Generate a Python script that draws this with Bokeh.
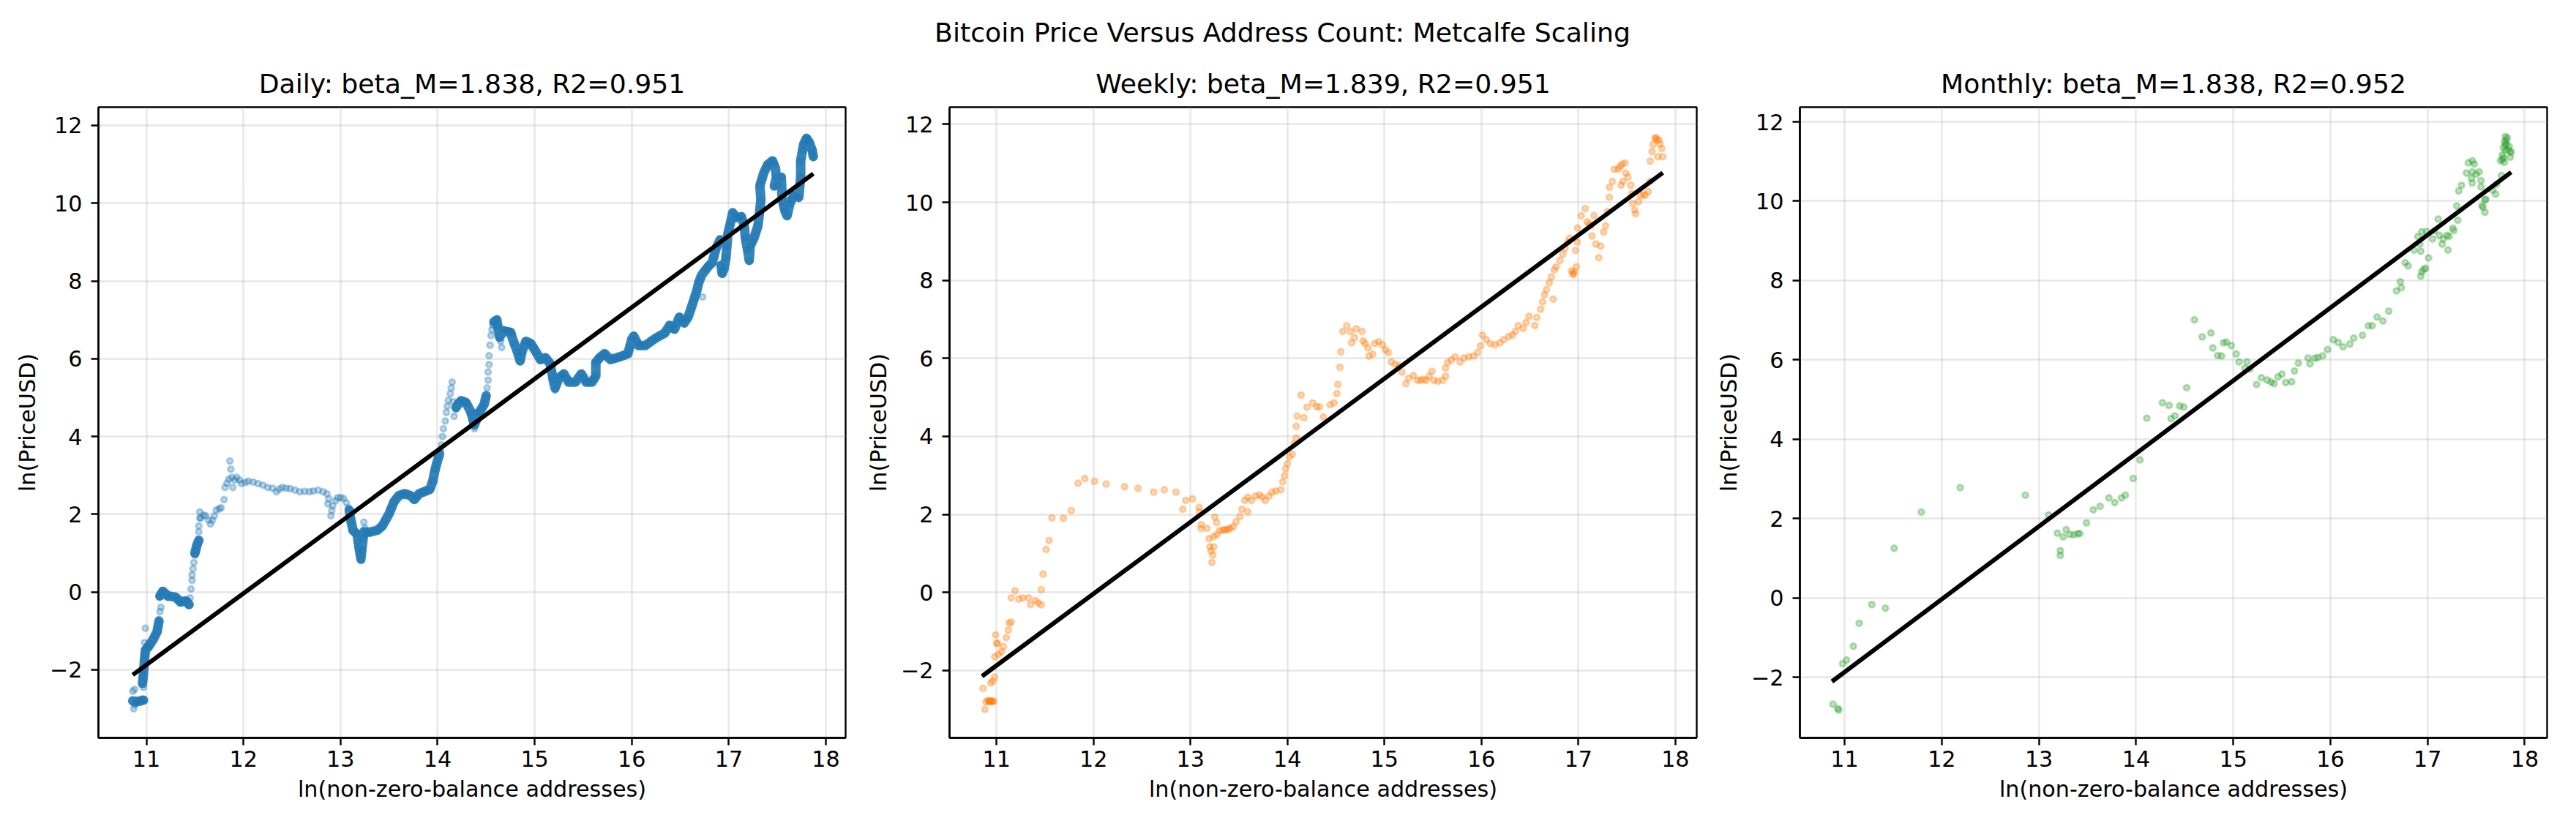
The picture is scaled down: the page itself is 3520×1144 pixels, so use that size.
import math
from bokeh.plotting import figure
from bokeh.layouts import column, row
from bokeh.models import Range1d, FixedTicker, CustomJSTickFormatter
from bokeh.core.properties import value
from bokeh.embed import file_html
from bokeh.resources import INLINE

# values: ln(address count) vs ln(price)
daily_x = [10.87, 10.88, 10.86, 10.88, 10.89, 10.90, 10.92, 10.94, 10.95, 10.97, 10.97, 10.96, 10.96, 10.97,
           10.98, 10.98, 10.99, 10.98, 10.99, 11.01, 11.03, 11.05, 11.07, 11.09, 11.11, 11.12, 11.13, 11.14,
           11.15, 11.13, 11.15, 11.17, 11.20, 11.22, 11.26, 11.30, 11.33, 11.35, 11.38, 11.41, 11.43, 11.45,
           11.46, 11.47, 11.47, 11.48, 11.49, 11.50, 11.51, 11.52, 11.54, 11.54, 11.54, 11.55, 11.55, 11.56,
           11.59, 11.61, 11.64, 11.66, 11.68, 11.70, 11.72, 11.75, 11.77, 11.80, 11.81, 11.83, 11.85, 11.86,
           11.87, 11.88, 11.89, 11.91, 11.93, 11.96, 11.98, 12.02, 12.05, 12.10, 12.15, 12.20, 12.25, 12.30,
           12.34, 12.37, 12.40, 12.44, 12.48, 12.53, 12.58, 12.63, 12.68, 12.72, 12.77, 12.82, 12.86, 12.87,
           12.88, 12.90, 12.91, 12.92, 12.95, 12.97, 13.00, 13.03, 13.06, 13.08, 13.10, 13.11, 13.12, 13.15,
           13.17, 13.18, 13.19, 13.20, 13.21, 13.22, 13.23, 13.24, 13.25, 13.26, 13.28, 13.31, 13.34, 13.38,
           13.41, 13.43, 13.46, 13.50, 13.52, 13.55, 13.57, 13.60, 13.63, 13.66, 13.69, 13.72, 13.76, 13.78,
           13.81, 13.84, 13.86, 13.89, 13.92, 13.95, 13.97, 13.99, 14.01, 14.03, 14.04, 14.05, 14.06, 14.08,
           14.09, 14.10, 14.11, 14.13, 14.14, 14.15, 14.16, 14.17, 14.19, 14.21, 14.24, 14.26, 14.29, 14.31,
           14.34, 14.36, 14.38, 14.38, 14.40, 14.43, 14.46, 14.48, 14.50, 14.51, 14.52, 14.52, 14.53, 14.53,
           14.54, 14.55, 14.56, 14.57, 14.59, 14.61, 14.62, 14.63, 14.65, 14.66, 14.67, 14.70, 14.72, 14.75,
           14.77, 14.79, 14.82, 14.84, 14.85, 14.87, 14.89, 14.91, 14.94, 14.96, 14.99, 15.01, 15.04, 15.06,
           15.09, 15.11, 15.14, 15.16, 15.18, 15.19, 15.21, 15.23, 15.25, 15.28, 15.30, 15.33, 15.35, 15.38,
           15.42, 15.45, 15.48, 15.51, 15.53, 15.56, 15.59, 15.61, 15.63, 15.62, 15.65, 15.67, 15.70, 15.72,
           15.75, 15.78, 15.82, 15.85, 15.88, 15.91, 15.94, 15.96, 15.98, 16.00, 16.02, 16.05, 16.07, 16.10,
           16.14, 16.17, 16.20, 16.23, 16.26, 16.30, 16.34, 16.37, 16.39, 16.42, 16.44, 16.47, 16.49, 16.52,
           16.54, 16.56, 16.58, 16.61, 16.63, 16.65, 16.67, 16.69, 16.73, 16.71, 16.74, 16.77, 16.79, 16.83,
           16.85, 16.87, 16.89, 16.91, 16.92, 16.93, 16.94, 16.95, 16.97, 16.98, 16.99, 17.01, 17.02, 17.04,
           17.06, 17.08, 17.11, 17.13, 17.15, 17.16, 17.17, 17.19, 17.21, 17.22, 17.24, 17.26, 17.28, 17.30,
           17.32, 17.33, 17.32, 17.34, 17.36, 17.38, 17.40, 17.43, 17.45, 17.47, 17.49, 17.46, 17.51, 17.54,
           17.55, 17.56, 17.58, 17.60, 17.63, 17.65, 17.67, 17.70, 17.72, 17.74, 17.74, 17.76, 17.77, 17.79,
           17.80, 17.82, 17.83, 17.85, 17.86, 17.87]
daily_y = [-3.00, -2.90, -2.55, -2.50, -2.85, -2.78, -2.82, -2.80, -2.75, -2.78, -2.45, -2.30, -2.15, -2.02,
           -1.75, -1.60, -1.45, -1.30, -0.93, -1.40, -1.43, -1.35, -1.22, -1.12, -1.02, -0.85, -0.70, -0.50,
           -0.39, -0.13, -0.02, 0.03, -0.05, -0.13, -0.10, -0.13, -0.20, -0.29, -0.22, -0.23, -0.34, -0.15,
           0.08, 0.30, 0.44, 0.60, 0.76, 0.95, 1.07, 1.20, 1.33, 1.55, 1.70, 1.90, 2.06, 1.91,
           1.98, 1.96, 1.85, 1.75, 1.85, 1.96, 2.11, 2.14, 2.17, 2.38, 2.69, 2.80, 2.90, 3.37,
           3.16, 2.95, 2.69, 2.88, 2.95, 2.88, 2.79, 2.82, 2.85, 2.83, 2.79, 2.75, 2.69, 2.67,
           2.58, 2.65, 2.69, 2.67, 2.66, 2.62, 2.58, 2.59, 2.58, 2.60, 2.62, 2.58, 2.53, 2.27,
           2.40, 1.96, 2.10, 2.22, 2.35, 2.43, 2.43, 2.41, 2.30, 2.17, 1.95, 1.80, 1.59, 1.55,
           1.49, 1.30, 1.12, 0.95, 0.81, 1.07, 1.40, 1.80, 1.65, 1.49, 1.52, 1.54, 1.57, 1.59,
           1.64, 1.70, 1.85, 2.01, 2.15, 2.32, 2.42, 2.48, 2.52, 2.53, 2.52, 2.48, 2.38, 2.45,
           2.53, 2.56, 2.58, 2.61, 2.64, 2.85, 3.16, 3.30, 3.47, 3.65, 3.79, 4.00, 4.20, 4.40,
           4.62, 4.78, 4.93, 5.10, 5.25, 5.40, 4.90, 4.52, 4.70, 4.88, 4.92, 4.93, 4.88, 4.83,
           4.60, 4.40, 4.20, 4.31, 4.62, 4.62, 4.75, 4.83, 5.00, 5.25, 5.45, 5.66, 5.85, 6.08,
           6.35, 6.60, 6.75, 6.86, 6.95, 7.02, 6.85, 6.60, 6.45, 6.29, 6.76, 6.73, 6.71, 6.68,
           6.66, 6.39, 6.19, 6.05, 5.92, 6.19, 6.35, 6.45, 6.42, 6.39, 6.30, 6.19, 6.08, 5.98,
           6.00, 6.03, 5.95, 5.87, 5.65, 5.46, 5.19, 5.35, 5.51, 5.58, 5.61, 5.50, 5.40, 5.42,
           5.40, 5.52, 5.61, 5.50, 5.40, 5.40, 5.40, 5.48, 5.56, 5.92, 5.98, 6.03, 6.08, 6.13,
           6.05, 5.98, 6.00, 6.03, 6.05, 6.08, 6.10, 6.13, 6.30, 6.50, 6.60, 6.45, 6.34, 6.34,
           6.34, 6.40, 6.45, 6.50, 6.55, 6.60, 6.66, 6.76, 6.86, 6.80, 6.76, 6.92, 7.07, 7.00,
           6.92, 7.00, 7.07, 7.25, 7.44, 7.60, 7.75, 7.96, 7.59, 8.10, 8.27, 8.33, 8.38, 8.48,
           8.65, 8.85, 8.95, 9.06, 8.38, 8.25, 8.17, 8.35, 8.59, 8.90, 9.21, 9.40, 9.53, 9.79,
           9.70, 9.63, 9.65, 9.68, 9.55, 9.42, 9.11, 8.80, 8.53, 8.90, 9.00, 9.11, 9.25, 9.42,
           9.84, 10.05, 10.47, 10.60, 10.78, 10.90, 10.99, 11.05, 11.09, 10.99, 10.67, 10.41, 10.47, 10.67,
           10.05, 9.90, 9.79, 9.68, 10.00, 10.10, 10.20, 10.18, 10.15, 10.67, 11.09, 11.35, 11.51, 11.62,
           11.67, 11.62, 11.56, 11.40, 11.30, 11.20]

# centre of the stretches where the daily points pile up into a solid band (nan = gap)
nan = float("nan")
band_x = [10.86, 10.90, 10.94, 10.97, nan,
          10.96, 10.97, 10.98, 10.99, 11.02, 11.07, 11.11, 11.13, nan,
          11.14, 11.17, 11.22, 11.30, 11.35, 11.41, 11.44, nan,
          11.50, 11.52, 11.54, nan,
          13.09, 13.11, 13.13, 13.17, 13.19, 13.21, 13.22, 13.24, 13.30, 13.38, 13.43, 13.50, 13.55, 13.60,
          13.66, 13.72, 13.76, 13.81, 13.86, 13.92, 13.95, 13.97, 13.99, 14.01, 14.02, nan,
          14.19, 14.24, 14.29, 14.34, 14.38, 14.43, 14.48, 14.50, nan,
          14.58, 14.61, 14.64, 14.67, 14.75, 14.79, 14.82, 14.85, 14.87, 14.91, 14.96, 15.01, 15.06, 15.11,
          15.16, 15.19, 15.21, 15.25, 15.30, 15.35, 15.42, 15.48, 15.53, 15.59, 15.63, 15.63, 15.67, 15.72,
          15.78, 15.85, 15.91, 15.96, 16.00, 16.02, 16.07, 16.14, 16.20, 16.26, 16.34, 16.39, 16.44, 16.49,
          16.54, 16.58, 16.63, 16.67, 16.69, 16.72, 16.79, 16.83, 16.87, 16.91, nan,
          16.92, 16.93, 16.95, 16.97, 16.99, 17.02, 17.04, 17.08, 17.13, 17.16, 17.17, 17.20, 17.21, 17.22,
          17.26, 17.30, 17.32, 17.33, 17.32, 17.36, 17.40, 17.45, 17.48, 17.49, 17.47, 17.51, 17.54, 17.55,
          17.58, 17.60, 17.63, 17.67, 17.72, 17.74, 17.74, 17.77, 17.80, 17.83, 17.86, 17.87]
band_y = [-2.80, -2.82, -2.80, -2.78, nan,
          -2.35, -2.10, -1.75, -1.50, -1.40, -1.22, -1.02, -0.75, nan,
          -0.10, 0.02, -0.10, -0.13, -0.25, -0.23, -0.32, nan,
          1.00, 1.20, 1.33, nan,
          2.10, 1.80, 1.58, 1.49, 1.15, 0.85, 1.10, 1.55, 1.54, 1.59, 1.70, 2.01, 2.32, 2.48,
          2.53, 2.48, 2.38, 2.53, 2.58, 2.64, 2.85, 3.10, 3.30, 3.47, 3.55, nan,
          4.75, 4.92, 4.88, 4.65, 4.30, 4.62, 4.83, 5.05, nan,
          6.95, 7.00, 6.55, 6.72, 6.68, 6.39, 6.19, 5.95, 6.19, 6.45, 6.39, 6.19, 5.98, 6.03,
          5.87, 5.46, 5.25, 5.51, 5.61, 5.40, 5.40, 5.61, 5.40, 5.40, 5.56, 5.90, 6.03, 6.13,
          5.98, 6.03, 6.08, 6.13, 6.50, 6.58, 6.34, 6.34, 6.45, 6.55, 6.66, 6.86, 6.76, 7.07,
          6.92, 7.07, 7.44, 7.75, 7.96, 8.15, 8.38, 8.48, 8.85, 9.06, nan,
          8.40, 8.20, 8.30, 8.59, 9.21, 9.53, 9.75, 9.63, 9.65, 9.40, 9.11, 8.70, 8.53, 8.90,
          9.11, 9.42, 9.84, 10.10, 10.45, 10.78, 10.99, 11.09, 10.90, 10.67, 10.45, 10.47, 10.67, 10.10,
          9.79, 9.68, 10.00, 10.20, 10.15, 10.67, 11.09, 11.51, 11.67, 11.56, 11.35, 11.20]

weekly_x = [10.86, 10.88, 10.89, 10.91, 10.92, 10.93, 10.94, 10.95, 10.96, 10.97, 10.94, 10.96, 10.98, 10.98,
            10.99, 11.00, 11.01, 11.02, 11.05, 11.07, 11.10, 11.12, 11.13, 11.15, 11.15, 11.19, 11.23, 11.27,
            11.33, 11.35, 11.40, 11.43, 11.46, 11.46, 11.48, 11.51, 11.54, 11.57, 11.69, 11.77, 11.84, 11.91,
            12.01, 12.13, 12.32, 12.46, 12.62, 12.73, 12.85, 12.92, 12.95, 13.02, 13.09, 13.09, 13.11, 13.11,
            13.17, 13.19, 13.20, 13.21, 13.22, 13.23, 13.24, 13.24, 13.25, 13.27, 13.27, 13.30, 13.33, 13.35,
            13.37, 13.39, 13.41, 13.44, 13.47, 13.51, 13.53, 13.56, 13.59, 13.59, 13.63, 13.67, 13.71, 13.74,
            13.77, 13.81, 13.84, 13.88, 13.93, 13.95, 13.97, 13.98, 14.00, 14.02, 14.05, 14.07, 14.09, 14.09,
            14.10, 14.14, 14.17, 14.20, 14.26, 14.30, 14.33, 14.37, 14.44, 14.48, 14.51, 14.52, 14.54, 14.55,
            14.57, 14.61, 14.65, 14.66, 14.69, 14.71, 14.77, 14.78, 14.80, 14.83, 14.84, 14.88, 14.90, 14.94,
            14.98, 15.01, 15.04, 15.07, 15.11, 15.15, 15.18, 15.22, 15.25, 15.30, 15.34, 15.37, 15.40, 15.43,
            15.46, 15.49, 15.51, 15.55, 15.60, 15.63, 15.63, 15.65, 15.69, 15.73, 15.78, 15.82, 15.87, 15.92,
            15.96, 15.99, 16.01, 16.05, 16.09, 16.14, 16.19, 16.23, 16.28, 16.32, 16.35, 16.38, 16.43, 16.46,
            16.49, 16.55, 16.57, 16.61, 16.63, 16.65, 16.67, 16.70, 16.74, 16.72, 16.75, 16.77, 16.81, 16.84,
            16.86, 16.89, 16.91, 16.93, 16.94, 16.95, 16.96, 16.98, 16.97, 16.99, 16.99, 17.03, 17.07, 17.09,
            17.11, 17.13, 17.16, 17.14, 17.18, 17.21, 17.23, 17.26, 17.28, 17.30, 17.32, 17.32, 17.35, 17.37,
            17.41, 17.43, 17.45, 17.48, 17.46, 17.44, 17.49, 17.51, 17.54, 17.55, 17.56, 17.59, 17.58, 17.62,
            17.64, 17.67, 17.69, 17.72, 17.74, 17.74, 17.76, 17.77, 17.79, 17.80, 17.81, 17.83, 17.84, 17.86,
            17.87, 17.82]
weekly_y = [-2.46, -3.00, -2.81, -2.77, -2.79, -2.80, -2.79, -2.78, -2.80, -2.79, -2.32, -2.27, -2.17, -1.65,
            -1.09, -1.30, -1.31, -1.59, -1.52, -1.39, -1.16, -0.97, -0.79, -0.76, -0.14, 0.04, -0.17, -0.14,
            -0.14, -0.31, -0.21, -0.27, -0.32, 0.07, 0.47, 1.10, 1.33, 1.91, 1.90, 2.10, 2.80, 2.92,
            2.85, 2.78, 2.71, 2.67, 2.57, 2.63, 2.57, 2.13, 2.36, 2.40, 2.18, 2.07, 1.74, 1.64,
            1.64, 1.38, 1.17, 1.06, 0.77, 0.96, 1.17, 1.43, 1.93, 1.79, 1.48, 1.58, 1.60, 1.60,
            1.61, 1.62, 1.64, 1.69, 1.81, 1.95, 2.13, 2.36, 2.07, 2.44, 2.36, 2.47, 2.50, 2.45,
            2.36, 2.47, 2.57, 2.60, 2.63, 2.83, 2.99, 3.17, 3.30, 3.48, 3.54, 3.81, 3.96, 4.26,
            4.52, 5.06, 4.48, 4.75, 4.86, 4.76, 4.76, 4.50, 4.81, 4.86, 5.10, 5.33, 5.77, 6.17,
            6.69, 6.84, 6.69, 6.40, 6.53, 6.76, 6.69, 6.45, 6.38, 6.27, 6.06, 6.11, 6.38, 6.43,
            6.35, 6.22, 6.15, 5.91, 5.85, 5.82, 5.65, 5.35, 5.49, 5.56, 5.44, 5.44, 5.46, 5.44,
            5.54, 5.67, 5.44, 5.41, 5.44, 5.54, 5.75, 5.89, 5.96, 6.04, 5.91, 6.01, 6.04, 6.06,
            6.15, 6.32, 6.60, 6.48, 6.38, 6.35, 6.40, 6.48, 6.56, 6.60, 6.69, 6.84, 6.77, 6.92,
            7.08, 6.84, 7.05, 7.26, 7.45, 7.63, 7.76, 7.94, 7.52, 8.09, 8.27, 8.35, 8.51, 8.67,
            8.82, 8.98, 9.08, 8.25, 8.18, 8.15, 8.22, 8.35, 8.77, 8.98, 9.34, 9.66, 9.84, 9.50,
            9.45, 9.40, 9.66, 9.14, 8.93, 8.58, 8.88, 9.24, 9.40, 9.76, 10.13, 10.39, 10.54, 10.85,
            10.85, 10.92, 10.98, 11.01, 10.54, 10.44, 10.75, 10.65, 10.44, 10.23, 9.97, 9.71, 9.80, 10.02,
            10.18, 10.20, 10.18, 10.28, 10.54, 11.06, 11.30, 11.48, 11.64, 11.66, 11.60, 11.60, 11.50, 11.38,
            11.17, 11.17]

monthly_x = [10.88, 10.93, 10.94, 10.98, 11.02, 11.09, 11.15, 11.28, 11.42, 11.51, 11.79, 12.19, 12.86, 13.10,
             13.19, 13.22, 13.22, 13.25, 13.28, 13.32, 13.36, 13.40, 13.42, 13.49, 13.56, 13.63, 13.72, 13.78,
             13.85, 13.89, 13.97, 14.04, 14.11, 14.27, 14.34, 14.36, 14.40, 14.45, 14.49, 14.52, 14.60, 14.68,
             14.77, 14.79, 14.84, 14.88, 14.90, 14.93, 14.98, 15.03, 15.06, 15.14, 15.12, 15.17, 15.24, 15.29,
             15.35, 15.39, 15.42, 15.46, 15.50, 15.54, 15.60, 15.63, 15.67, 15.77, 15.79, 15.84, 15.87, 15.92,
             15.97, 16.03, 16.08, 16.13, 16.20, 16.24, 16.33, 16.39, 16.43, 16.48, 16.54, 16.60, 16.68, 16.72,
             16.73, 16.77, 16.80, 16.86, 16.90, 16.92, 16.93, 16.94, 16.93, 16.96, 16.98, 16.94, 17.01, 16.99,
             17.05, 17.07, 17.11, 17.12, 17.15, 17.16, 17.21, 17.22, 17.20, 17.26, 17.27, 17.31, 17.30, 17.32,
             17.35, 17.40, 17.42, 17.46, 17.48, 17.46, 17.45, 17.46, 17.50, 17.53, 17.55, 17.55, 17.59, 17.56,
             17.57, 17.59, 17.60, 17.67, 17.70, 17.71, 17.76, 17.75, 17.77, 17.78, 17.80, 17.81, 17.82, 17.80,
             17.84, 17.85, 17.86, 17.85, 17.77, 17.79, 17.80, 17.79, 17.81, 17.78, 17.83]
monthly_y = [-2.68, -2.79, -2.83, -1.66, -1.57, -1.22, -0.64, -0.17, -0.26, 1.25, 2.16, 2.78, 2.59, 2.09,
             1.63, 1.19, 1.07, 1.54, 1.72, 1.60, 1.59, 1.62, 1.62, 1.89, 2.22, 2.31, 2.52, 2.40,
             2.52, 2.59, 3.01, 3.48, 4.53, 4.92, 4.85, 4.52, 4.59, 4.84, 4.81, 5.30, 7.01, 6.58,
             6.68, 6.30, 6.11, 6.10, 6.43, 6.45, 6.36, 6.15, 5.95, 5.95, 5.79, 5.77, 5.38, 5.55,
             5.49, 5.44, 5.40, 5.57, 5.64, 5.43, 5.45, 5.72, 5.92, 6.05, 5.90, 6.04, 6.06, 6.10,
             6.26, 6.51, 6.44, 6.33, 6.40, 6.55, 6.62, 6.86, 6.86, 7.08, 6.98, 7.23, 7.74, 7.97,
             7.82, 8.45, 8.37, 8.77, 9.11, 8.92, 8.74, 8.22, 8.11, 8.28, 8.31, 9.23, 8.57, 9.24,
             9.05, 9.26, 9.55, 9.14, 8.92, 9.05, 8.77, 9.11, 9.14, 9.32, 9.26, 9.52, 9.88, 10.26,
             10.40, 10.71, 10.97, 11.02, 10.94, 10.74, 10.58, 10.46, 10.68, 10.74, 10.52, 10.36, 10.03, 9.89,
             9.85, 9.72, 10.05, 10.28, 10.18, 10.43, 10.65, 11.02, 11.17, 11.35, 11.63, 11.54, 11.60, 11.42,
             11.38, 11.26, 11.23, 11.11, 11.05, 10.98, 11.29, 11.50, 11.45, 11.10, 11.30]

# fitted Metcalfe lines (end points)
daily_fit_x, daily_fit_y = [10.86, 17.87], [-2.13, 10.76]
weekly_fit_x, weekly_fit_y = [10.85, 17.87], [-2.15, 10.76]
monthly_fit_x, monthly_fit_y = [10.87, 17.86], [-2.11, 10.73]

titles = ["Daily: beta_M=1.838, R2=0.951",
          "Weekly: beta_M=1.839, R2=0.951",
          "Monthly: beta_M=1.838, R2=0.952"]
suptitle = "Bitcoin Price Versus Address Count: Metcalfe Scaling"
x_ticks = [11, 12, 13, 14, 15, 16, 17, 18]
y_ticks = [-2, 0, 2, 4, 6, 8, 10, 12]

FONT = "DejaVu Sans"
minus_fmt = "return tick < 0 ? '\\u2212' + Math.abs(tick) : String(tick);"

# layout (px): frames 1021 x 862, header strip for the figure title
W, FRAME_W, FRAME_H, HEAD_H = 3504, 1021, 862, 79


def panel(title, xs, ys, color, fx, fy, xr, yr, left, right, bx=None, by=None):
    p = figure(title=title, frame_width=FRAME_W, frame_height=FRAME_H,
               x_range=Range1d(*xr), y_range=Range1d(*yr),
               output_backend="svg", toolbar_location=None,
               min_border_left=left, min_border_right=right,
               min_border_top=67, min_border_bottom=120)
    p.title.align = "center"
    p.title.text_font = FONT
    p.title.text_font_size = "36.2px"
    p.title.text_font_style = "normal"
    p.title.text_color = "black"
    p.title.standoff = 22

    if bx is not None:
        p.line(bx, by, line_width=13, color=color, alpha=0.9,
               line_join="round", line_cap="round")
    p.scatter(xs, ys, marker="circle", size=8, fill_color=color, line_color=color,
              fill_alpha=0.3, line_alpha=0.3, line_width=2.8)
    p.line(fx, fy, line_width=6, color="black")

    p.xaxis.ticker = FixedTicker(ticks=x_ticks, minor_ticks=[])
    p.yaxis.ticker = FixedTicker(ticks=y_ticks, minor_ticks=[])
    p.yaxis.formatter = CustomJSTickFormatter(code=minus_fmt)
    p.xaxis.axis_label = "ln(non-zero-balance addresses)"
    p.yaxis.axis_label = "ln(PriceUSD)"
    for ax in (p.xaxis, p.yaxis):
        ax.axis_label_text_font = FONT
        ax.axis_label_text_font_size = "30.2px"
        ax.axis_label_text_font_style = "normal"
        ax.axis_label_text_color = "black"
        ax.major_label_text_font = FONT
        ax.major_label_text_font_size = "30.2px"
        ax.major_label_text_color = "black"
        ax.major_tick_out = 10
        ax.major_tick_in = 0
        ax.major_tick_line_width = 2.4
        ax.major_tick_line_color = "black"
        ax.axis_line_width = 2.4
        ax.axis_line_color = "black"
        ax.minor_tick_line_color = None
    p.xaxis.major_label_standoff = 7
    p.xaxis.axis_label_standoff = 10
    p.yaxis.major_label_standoff = 12
    p.yaxis.axis_label_standoff = 10
    p.grid.grid_line_color = "#b0b0b0"
    p.grid.grid_line_alpha = 0.3
    p.grid.grid_line_width = 2.4
    p.outline_line_color = "black"
    p.outline_line_width = 2.4
    p.outline_line_alpha = 1.0
    return p


# frame left edges land at 134 / 1297 / 2459 px of the layout
p1 = panel(titles[0], daily_x, daily_y, "#1f77b4", daily_fit_x, daily_fit_y,
           (10.506, 18.203), (-3.75, 12.47), 134, 9, band_x, band_y)
p2 = panel(titles[1], weekly_x, weekly_y, "#ff7f0e", weekly_fit_x, weekly_fit_y,
           (10.515, 18.22), (-3.73, 12.44), 133, 9)
p3 = panel(titles[2], monthly_x, monthly_y, "#2ca02c", monthly_fit_x, monthly_fit_y,
           (10.54, 18.23), (-3.53, 12.37), 132, 24)

top = figure(frame_width=W, frame_height=HEAD_H, x_range=(0, W), y_range=(0, HEAD_H),
             x_axis_type=None, y_axis_type=None, min_border=0,
             output_backend="svg", toolbar_location=None)
top.outline_line_color = None
top.text(x=[W / 2], y=[HEAD_H - 43.7], text=[suptitle], text_align="center",
         text_baseline="alphabetic", text_font=value(FONT), text_font_size=value("36.2px"),
         text_color="black")

p = column(top, row(p1, p2, p3))
open("out.html", "w").write(file_html(p, INLINE))
